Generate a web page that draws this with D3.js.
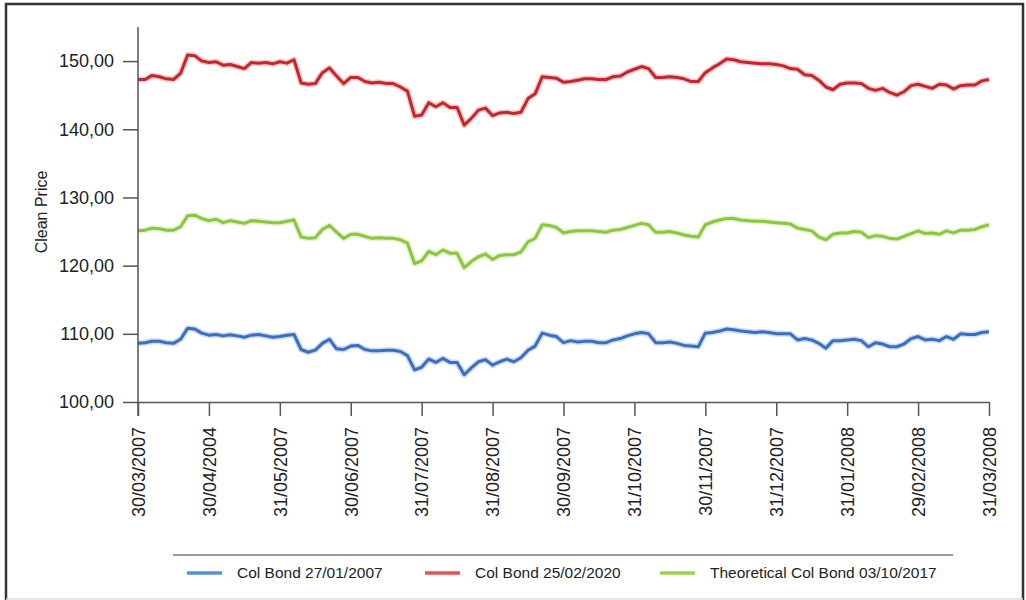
<!DOCTYPE html>
<html><head><meta charset="utf-8">
<script src="https://cdn.jsdelivr.net/npm/d3@7"></script>
<style>body{margin:0;background:#fff}svg{display:block;font-family:"Liberation Sans",Arial,sans-serif}</style>
</head><body>
<svg id="c" width="1026" height="600"></svg>
<script>
const tickLabels = ["30/03/2007","30/04/2004","31/05/2007","30/06/2007","31/07/2007","31/08/2007","30/09/2007","31/10/2007","30/11/2007","31/12/2007","31/01/2008","29/02/2008","31/03/2008"];
const yTicks = [100,110,120,130,140,150];
const seriesNames = ["Col Bond 27/01/2007","Col Bond 25/02/2020","Theoretical Col Bond 03/10/2017"];
const seriesColors = ["#3a6fc0","#c4262b","#8cc63e"];
const legendColors = ["#5b8fd8","#e05356","#9ed24c"];

const blue = [108.6,108.7,108.9,108.9,108.7,108.6,109.2,110.8,110.7,110.1,
109.8,109.9,109.7,109.85,109.7,109.5,109.8,109.9,109.7,109.5,
109.6,109.8,109.9,107.7,107.3,107.6,108.6,109.2,107.8,107.7,
108.2,108.3,107.7,107.5,107.5,107.6,107.6,107.4,106.8,104.7,
105.1,106.3,105.8,106.4,105.8,105.8,104.0,105.0,105.9,106.2,
105.4,105.9,106.3,105.9,106.5,107.6,108.2,110.1,109.8,109.6,
108.7,109.0,108.8,108.9,108.9,108.7,108.7,109.1,109.3,109.7,
110.0,110.2,110.0,108.7,108.7,108.8,108.6,108.3,108.2,108.1,
110.1,110.2,110.4,110.7,110.6,110.4,110.3,110.2,110.3,110.2,
110.0,110.0,110.0,109.1,109.3,109.1,108.6,107.9,109.0,109.0,
109.1,109.2,109.0,108.1,108.7,108.5,108.1,108.1,108.5,109.3,
109.6,109.1,109.2,109.0,109.6,109.2,110.0,109.9,109.9,110.2,110.3];

const red = [147.3,147.3,147.9,147.7,147.4,147.3,148.2,150.9,150.8,150.0,
149.8,149.9,149.4,149.5,149.2,148.9,149.8,149.7,149.8,149.6,
149.9,149.7,150.2,146.8,146.6,146.7,148.3,149.0,147.8,146.7,
147.6,147.6,147.0,146.8,146.9,146.7,146.7,146.2,145.6,141.9,
142.1,143.9,143.3,143.9,143.2,143.2,140.6,141.6,142.8,143.1,
142.0,142.4,142.5,142.3,142.5,144.5,145.2,147.7,147.6,147.5,
146.9,147.0,147.2,147.4,147.4,147.3,147.3,147.7,147.8,148.4,
148.8,149.2,148.9,147.6,147.6,147.7,147.6,147.4,147.0,147.0,
148.3,149.0,149.6,150.3,150.2,149.9,149.8,149.7,149.6,149.6,
149.5,149.3,148.9,148.8,148.0,147.9,147.2,146.2,145.8,146.6,
146.8,146.8,146.7,146.0,145.7,146.0,145.4,145.0,145.5,146.4,
146.6,146.3,146.0,146.6,146.5,145.9,146.4,146.5,146.5,147.1,147.3];

const green = [125.1,125.2,125.5,125.4,125.2,125.2,125.7,127.3,127.4,126.9,
126.6,126.8,126.3,126.6,126.4,126.2,126.6,126.5,126.4,126.3,
126.3,126.5,126.7,124.2,124.0,124.1,125.3,125.9,124.9,124.0,
124.6,124.6,124.3,124.0,124.1,124.0,124.0,123.8,123.3,120.3,
120.7,122.1,121.6,122.3,121.8,121.8,119.7,120.6,121.3,121.7,
120.9,121.5,121.6,121.6,122.0,123.5,124.0,126.0,125.9,125.6,
124.8,125.0,125.1,125.1,125.1,125.0,124.9,125.2,125.3,125.6,
125.9,126.2,126.0,124.9,124.9,125.0,124.8,124.5,124.3,124.2,
126.0,126.4,126.7,126.9,126.9,126.7,126.6,126.5,126.5,126.4,
126.3,126.2,126.1,125.5,125.3,125.1,124.2,123.8,124.6,124.8,
124.8,125.0,124.9,124.1,124.4,124.3,124.0,123.9,124.3,124.7,
125.1,124.7,124.8,124.6,125.1,124.8,125.2,125.2,125.3,125.7,126.0];

const allSeries = [blue, red, green];
const svg = d3.select("#c");

// frame
svg.append("rect").attr("x",6).attr("y",4).attr("width",1017).attr("height",600)
  .attr("fill","none").attr("stroke","#333").attr("stroke-width",2.5);
svg.append("line").attr("x1",6).attr("x2",1023).attr("y1",599).attr("y2",599)
  .attr("stroke","#ddd").attr("stroke-width",1.5);

const nPts = red.length;
const x = d3.scaleLinear().domain([0, nPts-1]).range([138, 989]);
const y = d3.scaleLinear().domain([100, 155]).range([402, 27]);
const loc = d3.formatLocale({decimal:",",thousands:".",grouping:[3],currency:["",""]});
const fmt = loc.format(".2f");

const tickIdx = tickLabels.map((d,i)=> i*(nPts-1)/(tickLabels.length-1));

// lines
const line = d3.line().x((d,i)=>x(i)).y(d=>y(d)).curve(d3.curveLinear);
allSeries.forEach((s,k)=>{
  svg.append("path").datum(s).attr("d",line).attr("fill","none")
    .attr("stroke",seriesColors[k]).attr("stroke-opacity",0.25).attr("stroke-width",6)
    .attr("stroke-linejoin","round");
  svg.append("path").datum(s).attr("d",line).attr("fill","none")
    .attr("stroke",seriesColors[k]).attr("stroke-width",3)
    .attr("stroke-linejoin","round");
});

// y axis
const yAxis = svg.append("g").attr("transform","translate(138,0)")
  .call(d3.axisLeft(y).tickValues(yTicks).tickFormat(fmt).tickSize(15).tickPadding(9));
yAxis.select(".domain").attr("d","M0,27V416");
// x axis
const xAxis = svg.append("g").attr("transform","translate(0,402)")
  .call(d3.axisBottom(x).tickValues(tickIdx).tickFormat((d,i)=>tickLabels[i]).tickSize(14).tickSizeOuter(0));
xAxis.selectAll(".tick text").attr("transform","rotate(-90)")
  .attr("text-anchor","end").attr("x",-25).attr("y",0).attr("dy","0.35em");
[yAxis,xAxis].forEach(a=>{
  a.selectAll("path,line").attr("stroke","#555").attr("stroke-width",1.5);
  a.selectAll("text").attr("fill","#222").attr("font-size",18)
    .attr("font-family",'"Liberation Sans",Arial,sans-serif');
});

// y title
svg.append("text").attr("transform","translate(47,212) rotate(-90)")
  .attr("text-anchor","middle").attr("font-size",16).attr("fill","#222").text("Clean Price");

// legend
svg.append("line").attr("x1",173).attr("x2",953).attr("y1",555).attr("y2",555)
  .attr("stroke","#777").attr("stroke-width",1.5);
const legX = [187, 425, 660];
const lg = svg.selectAll("g.leg").data(seriesNames).join("g").attr("class","leg")
  .attr("transform",(d,i)=>`translate(${legX[i]},573)`);
lg.append("line").attr("x1",0).attr("x2",35).attr("y1",0).attr("y2",0)
  .attr("stroke",(d,i)=>legendColors[i]).attr("stroke-width",3.5);
lg.append("text").attr("x",50).attr("dy","0.35em").attr("font-size",15.5)
  .attr("fill","#222").text(d=>d);
</script>
</body></html>
